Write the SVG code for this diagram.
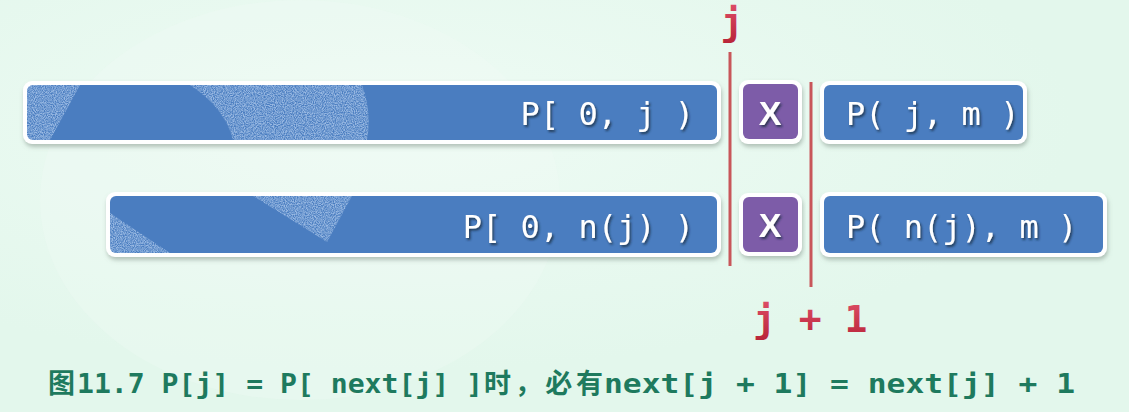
<svg xmlns="http://www.w3.org/2000/svg" width="1129" height="412" viewBox="0 0 1129 412">
<defs>
<filter id="shadow" x="-5%" y="-20%" width="110%" height="150%">
<feDropShadow dx="1" dy="3" stdDeviation="2" flood-color="#7a8a80" flood-opacity="0.5"/>
</filter>
<filter id="tshadow" x="-10%" y="-20%" width="120%" height="150%">
<feDropShadow dx="1.5" dy="2" stdDeviation="1" flood-color="#1a2a40" flood-opacity="0.8"/>
</filter>
<filter id="speckle" x="0" y="0" width="100%" height="100%">
<feTurbulence type="fractalNoise" baseFrequency="0.9" numOctaves="2" seed="3" result="n"/>
<feColorMatrix in="n" type="matrix" values="0 0 0 0 0.62  0 0 0 0 0.76  0 0 0 0 0.96  0 0 0 2.2 -0.6" result="c"/>
<feComposite in="c" in2="SourceGraphic" operator="in"/>
</filter>
<linearGradient id="redg" x1="0" y1="0" x2="0" y2="1">
<stop offset="0" stop-color="#e0506a"/>
<stop offset="1" stop-color="#b82438"/>
</linearGradient>
<radialGradient id="bgl" cx="0.35" cy="0.3" r="0.6">
<stop offset="0" stop-color="#eefbf4"/>
<stop offset="1" stop-color="#e3f7ec"/>
</radialGradient>
</defs>
<style>
.outer{fill:#ffffff;filter:url(#shadow)}
.bar{fill:#4a7dc0}
.xbox{fill:#7d5ca8}
.lbl{font-family:"DejaVu Sans Mono","Liberation Mono",monospace;font-size:32px;fill:#ffffff;filter:url(#tshadow)}
.xl{font-family:"Liberation Sans","DejaVu Sans",sans-serif;font-weight:bold;font-size:34px;fill:#ffffff;filter:url(#tshadow)}
.tex{fill:#8fb0e0;opacity:0.6}
.sp{filter:url(#speckle)}
.red{font-family:"DejaVu Sans Mono","Liberation Mono",monospace;font-weight:bold;font-size:38px;fill:url(#redg)}
.cap{font-family:"DejaVu Sans Mono","Liberation Mono",monospace;font-weight:bold;font-size:27px;fill:#1e7a5e}
.capc{font-family:"Noto Sans CJK SC",sans-serif;font-weight:bold;font-size:27px;fill:#1e7a5e}
.vline{stroke:#c8565a;stroke-width:3;fill:none}
</style>
<rect width="1129" height="412" fill="url(#bgl)"/>
<ellipse cx="300" cy="200" rx="260" ry="200" fill="#f2fcf7" opacity="0.25"/>

<g id="node-top-left">
<rect class="outer" x="23" y="81" width="698" height="63" rx="9"/>
<rect class="bar" x="27" y="85" width="690" height="55" rx="6"/>
<g class="sp">
<path class="tex" d="M33 85 L80 85 L50 140 L33 140 Q27 140 27 134 L27 91 Q27 85 33 85 Z"/>
<path class="tex" d="M190 85 L362 85 Q372 112 367 140 L233 140 Q225 108 190 85 Z"/>
</g>
<text class="lbl" x="694" y="125" text-anchor="end">P[ 0, j )</text>
</g>

<g id="node-top-x">
<rect class="outer" x="739" y="80" width="63" height="64" rx="9"/>
<rect class="xbox" x="743" y="84" width="55" height="55" rx="6"/>
<text class="xl" x="770" y="125" text-anchor="middle">X</text>
</g>

<g id="node-top-right">
<rect class="outer" x="820" y="81" width="207" height="63" rx="9"/>
<rect class="bar" x="824" y="85" width="199" height="55" rx="6"/>
<text class="lbl" x="846" y="125">P( j, m )</text>
</g>

<g id="node-bottom-left">
<rect class="outer" x="106" y="192" width="615" height="65" rx="9"/>
<rect class="bar" x="110" y="196" width="607" height="57" rx="6"/>
<g class="sp">
<path class="tex" d="M110 213 L170 253 L116 253 Q110 253 110 247 Z"/>
<path class="tex" d="M253 196 L352 196 L327 242 Z"/>
</g>
<text class="lbl" x="694" y="238" text-anchor="end">P[ 0, n(j) )</text>
</g>

<g id="node-bottom-x">
<rect class="outer" x="739" y="193" width="63" height="63" rx="9"/>
<rect class="xbox" x="743" y="197" width="55" height="55" rx="6"/>
<text class="xl" x="770" y="237" text-anchor="middle">X</text>
</g>

<g id="node-bottom-right">
<rect class="outer" x="820" y="192" width="287" height="65" rx="9"/>
<rect class="bar" x="824" y="196" width="279" height="57" rx="6"/>
<text class="lbl" x="846" y="238">P( n(j), m )</text>
</g>

<g id="connectors">
<line class="vline" x1="730" y1="52" x2="730" y2="266"/>
<line class="vline" x1="811" y1="82" x2="811" y2="287"/>
</g>

<g id="labels">
<text class="red" x="732" y="35" text-anchor="middle">j</text>
<text class="red" x="753" y="332">j + 1</text>
<text y="393"><tspan class="capc" x="48">图</tspan><tspan class="cap" x="77" textLength="406" lengthAdjust="spacingAndGlyphs">11.7 P[j] = P[ next[j] ]</tspan><tspan class="capc" x="484" textLength="119" lengthAdjust="spacing">时，必有</tspan><tspan class="cap" x="604" textLength="471" lengthAdjust="spacingAndGlyphs">next[j + 1] = next[j] + 1</tspan></text>
</g>
</svg>
